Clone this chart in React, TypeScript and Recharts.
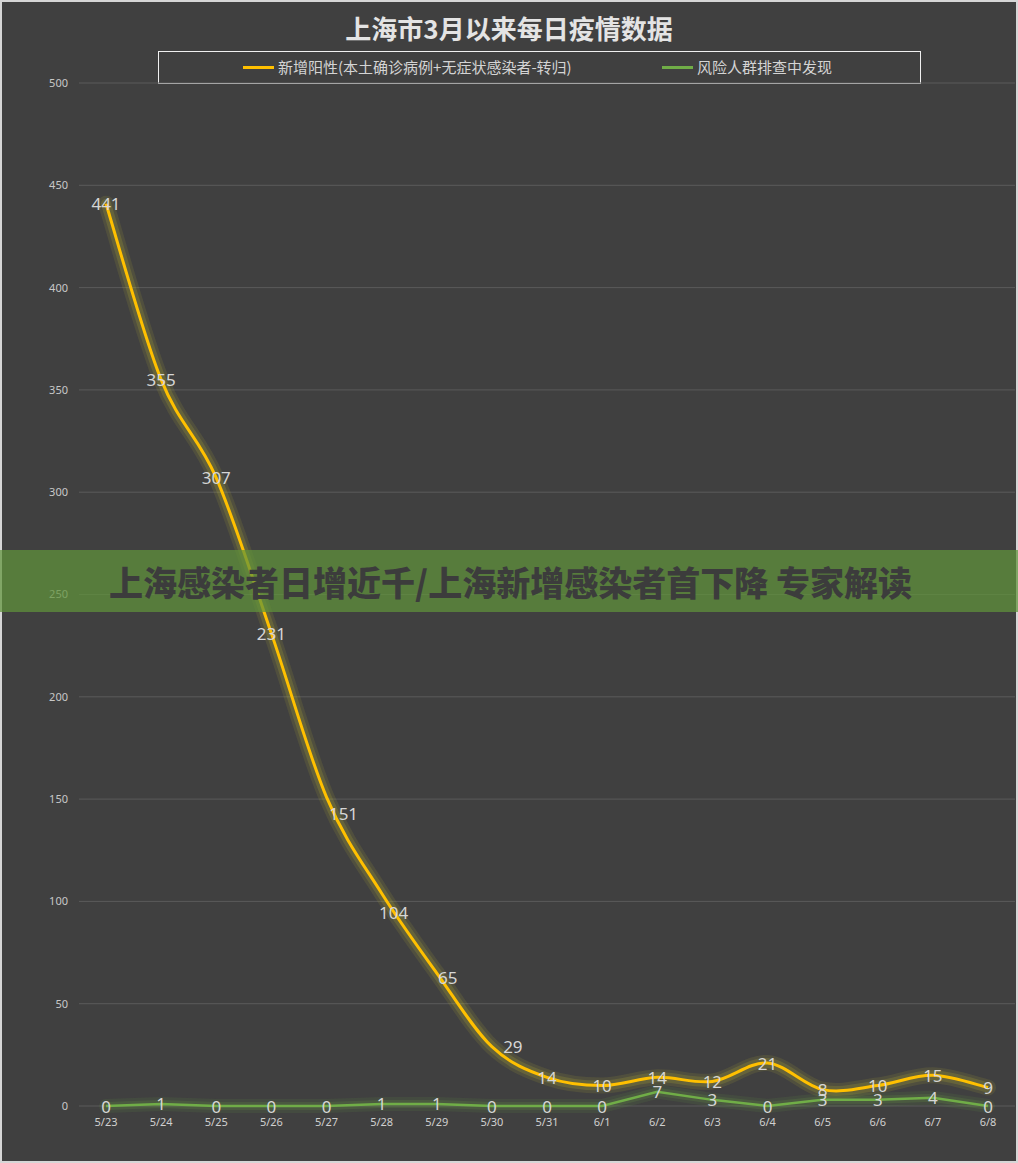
import {
  LineChart,
  Line,
  XAxis,
  YAxis,
  CartesianGrid,
  LabelList
} from "recharts"

const dates = [
  "5/23", "5/24", "5/25", "5/26", "5/27", "5/28", "5/29", "5/30", "5/31",
  "6/1", "6/2", "6/3", "6/4", "6/5", "6/6", "6/7", "6/8"
]

const positives = [441, 355, 307, 231, 151, 104, 65, 29, 14, 10, 14, 12, 21, 8, 10, 15, 9]

const riskGroup = [0, 1, 0, 0, 0, 1, 1, 0, 0, 0, 7, 3, 0, 3, 3, 4, 0]

const yTicks = [0, 50, 100, 150, 200, 250, 300, 350, 400, 450, 500]

const data = dates.map((date, i) => ({
  date,
  positive: positives[i],
  risk: riskGroup[i]
}))

// a few labels on the steep part were nudged off their point in the original
const positiveLabelNudge: Record<number, [number, number]> = {
  4: [17, 16],
  5: [12, 19],
  6: [11, 4],
  7: [21, 0]
}

// smoothing like the office "smoothed line" (catmull-rom, 1/6 tension)
function excelSmooth(context: any) {
  let pts: number[][] = []
  return {
    areaStart() {},
    areaEnd() {},
    lineStart() {
      pts = []
    },
    point(x: number, y: number) {
      pts.push([+x, +y])
    },
    lineEnd() {
      if (!pts.length) return
      context.moveTo(pts[0][0], pts[0][1])
      for (let i = 0; i < pts.length - 1; i++) {
        const p0 = pts[i - 1] || pts[i]
        const p1 = pts[i]
        const p2 = pts[i + 1]
        const p3 = pts[i + 2] || pts[i + 1]
        context.bezierCurveTo(
          p1[0] + (p2[0] - p0[0]) / 6,
          p1[1] + (p2[1] - p0[1]) / 6,
          p2[0] - (p3[0] - p1[0]) / 6,
          p2[1] - (p3[1] - p1[1]) / 6,
          p2[0],
          p2[1]
        )
      }
    }
  }
}

const makeLabel = (nudge: Record<number, [number, number]>) => (props: any) => {
  const { x, y, value, index } = props
  const [dx, dy] = nudge[index] || [0, 0]
  return (
    <text
      x={Number(x) + dx}
      y={Number(y) + dy}
      textAnchor="middle"
      dominantBaseline="central"
      fill="#d6d6d6"
      fontSize={17}
      fontFamily="'Noto Sans', sans-serif"
    >
      {value}
    </text>
  )
}

// soft halo drawn under each series
const glow = (key: string, type: any, color: string, width: number, opacity: number) => (
  <Line
    key={key + width}
    dataKey={key}
    type={type}
    stroke={color}
    strokeOpacity={opacity}
    strokeWidth={width}
    strokeLinecap="round"
    strokeLinejoin="round"
    dot={false}
    activeDot={false}
    legendType="none"
    isAnimationActive={false}
  />
)

export default function App() {

  return (
    <div
      style={{
        position: "absolute",
        left: 0,
        top: 0,
        width: 1018,
        height: 1163,
        background: "#404040",
        boxShadow: "inset 0 0 0 2px #d6d6d6",
        fontFamily: "'Noto Sans CJK SC', sans-serif"
      }}
    >

      <div
        style={{
          position: "absolute",
          top: 10,
          left: 0,
          width: 1018,
          textAlign: "center",
          fontSize: 26,
          fontWeight: 700,
          color: "#e4e4e4",
          lineHeight: "36px"
        }}
      >
        上海市3月以来每日疫情数据
      </div>

      <div
        style={{
          position: "absolute",
          left: 158,
          top: 51,
          width: 763,
          height: 33,
          boxSizing: "border-box",
          border: "1px solid #f0f0f0",
          fontSize: 15,
          color: "#d4d4d4"
        }}
      >
        <div style={{ position: "absolute", left: 84, top: 14, width: 31, height: 3, background: "#ffc000" }} />
        <div style={{ position: "absolute", left: 119, top: 5, lineHeight: "20px", whiteSpace: "nowrap" }}>
          新增阳性(本土确诊病例+无症状感染者-转归)
        </div>
        <div style={{ position: "absolute", left: 503, top: 14, width: 31, height: 3, background: "#70ad47" }} />
        <div style={{ position: "absolute", left: 538, top: 5, lineHeight: "20px", whiteSpace: "nowrap" }}>
          风险人群排查中发现
        </div>
      </div>

      <LineChart
        width={1018}
        height={1163}
        data={data}
        margin={{ top: 83, right: 3, left: 0, bottom: 27 }}
        style={{ position: "absolute", left: 0, top: 0 }}
      >

        <CartesianGrid
          vertical={false}
          stroke="#5a5a5a"
        />

        <XAxis
          dataKey="date"
          height={30}
          padding={{ left: 27, right: 27 }}
          axisLine={false}
          tickLine={false}
          tickSize={0}
          tickMargin={12}
          tick={{ fill: "#d0d0d0", fontSize: 11, fontFamily: "'Noto Sans', sans-serif" }}
        />

        <YAxis
          width={79}
          domain={[0, 500]}
          ticks={yTicks}
          axisLine={false}
          tickLine={false}
          tickSize={0}
          tickMargin={11}
          tick={{ fill: "#c8c8c8", fontSize: 11, fontFamily: "'Noto Sans', sans-serif" }}
        />

        {glow("positive", excelSmooth, "#c8c030", 16, 0.12)}
        {glow("positive", excelSmooth, "#c8c030", 10, 0.18)}
        {glow("risk", "linear", "#70ad47", 14, 0.1)}
        {glow("risk", "linear", "#70ad47", 8, 0.16)}

        <Line
          dataKey="positive"
          type={excelSmooth as any}
          stroke="#ffc000"
          strokeWidth={3}
          dot={false}
          activeDot={false}
          isAnimationActive={false}
        >
          <LabelList dataKey="positive" content={makeLabel(positiveLabelNudge)} />
        </Line>

        <Line
          dataKey="risk"
          type="linear"
          stroke="#70ad47"
          strokeWidth={2.5}
          dot={false}
          activeDot={false}
          isAnimationActive={false}
        >
          <LabelList dataKey="risk" content={makeLabel({})} />
        </Line>

      </LineChart>

      <div
        style={{
          position: "absolute",
          left: 0,
          top: 550,
          width: 1018,
          height: 62,
          background: "rgba(95, 147, 58, 0.72)",
          display: "flex",
          alignItems: "center",
          justifyContent: "center"
        }}
      >
        <span
          style={{
            fontSize: 34,
            fontWeight: 900,
            color: "#3c3c3c",
            whiteSpace: "nowrap",
            marginLeft: 3
          }}
        >
          上海感染者日增近千/上海新增感染者首下降 专家解读
        </span>
      </div>

    </div>
  )
}
